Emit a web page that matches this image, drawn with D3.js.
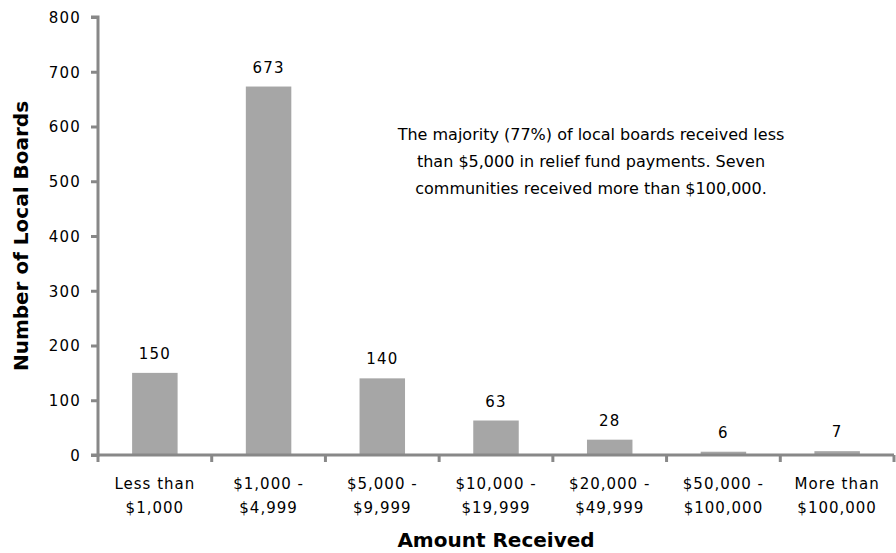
<html>
<head>
    <script src="https://d3js.org/d3.v7.min.js"></script>
    <style>
        body { margin: 0; background: #fff; }
        text { font-family: "DejaVu Sans", sans-serif; fill: #000; }
    </style>
</head>
<body>
    <svg id="chartArea" height="553" width="896"></svg>
    <script>
        // data
        const categories = ["Less than|$1,000", "$1,000 -|$4,999", "$5,000 -|$9,999", "$10,000 -|$19,999",
            "$20,000 -|$49,999", "$50,000 -|$100,000", "More than|$100,000"];
        const boards = [150, 673, 140, 63, 28, 6, 7];
        const yTicks = [0, 100, 200, 300, 400, 500, 600, 700, 800];
        const note = ["The majority (77%) of local boards received less",
            "than $5,000 in relief fund payments. Seven",
            "communities received more than $100,000."];

        const svg = d3.select("#chartArea");
        const margins = { top: 17, right: 2, bottom: 98, left: 98 };
        const chartWidth = 896 - margins.left - margins.right;
        const chartHeight = 553 - margins.top - margins.bottom;
        const axisColor = "#888";

        const chartArea = svg.append("g")
            .attr("transform", `translate(${margins.left},${margins.top})`);

        const xScale = d3.scaleBand()
            .domain(categories)
            .range([0, chartWidth])
            .paddingInner(0.6)
            .paddingOuter(0.3);

        const yScale = d3.scaleLinear()
            .domain([0, 800])
            .range([chartHeight, 0]);

        // bars
        chartArea.selectAll(".bar")
            .data(boards)
            .join("rect")
            .attr("class", "bar")
            .attr("x", (d, i) => xScale(categories[i]))
            .attr("y", d => yScale(d))
            .attr("width", xScale.bandwidth())
            .attr("height", d => chartHeight - yScale(d))
            .attr("fill", "#a6a6a6");

        // value labels
        chartArea.selectAll(".val")
            .data(boards)
            .join("text")
            .attr("class", "val")
            .attr("x", (d, i) => xScale(categories[i]) + xScale.bandwidth() / 2)
            .attr("y", d => yScale(d) - 14)
            .attr("text-anchor", "middle")
            .style("font-size", "15px")
            .style("letter-spacing", "1.2px")
            .text(d => d);

        // y axis
        const leftAxis = d3.axisLeft(yScale).tickValues(yTicks).tickSize(7).tickPadding(10);
        const yAxis = chartArea.append("g").call(leftAxis);
        yAxis.selectAll("text")
            .style("font-size", "15px")
            .style("letter-spacing", "1.2px")
            .style("font-family", "DejaVu Sans")
            .attr("fill", "#000")
            .attr("dy", "0.35em");

        // x axis with boundary ticks
        const bottomAxis = d3.axisBottom(xScale).tickSize(0).tickFormat("");
        const xAxis = chartArea.append("g")
            .attr("transform", `translate(0,${chartHeight})`)
            .call(bottomAxis);
        const step = xScale.step();
        xAxis.selectAll(".bound")
            .data(d3.range(categories.length + 1))
            .join("line")
            .attr("class", "bound")
            .attr("x1", i => i * step)
            .attr("x2", i => i * step)
            .attr("y1", 0)
            .attr("y2", 7);

        svg.selectAll(".domain, .tick line, .bound")
            .attr("stroke", axisColor)
            .attr("stroke-width", 3);
        yAxis.select(".domain").attr("d", `M-7,${chartHeight}H0V0H-7`);
        xAxis.select(".domain").attr("d", `M0,0H${chartWidth}`);

        // category labels (two lines)
        chartArea.selectAll(".cat")
            .data(categories)
            .join("text")
            .attr("class", "cat")
            .attr("text-anchor", "middle")
            .style("font-size", "15px")
            .style("letter-spacing", "1px")
            .selectAll("tspan")
            .data(d => d.split("|").map(s => ({ s, x: xScale(d) + xScale.bandwidth() / 2 })))
            .join("tspan")
            .attr("x", d => d.x)
            .attr("y", (d, i) => chartHeight + 34 + i * 24)
            .text(d => d.s);

        // axis titles
        svg.append("text")
            .attr("transform", `translate(28,${margins.top + chartHeight / 2}) rotate(-90)`)
            .attr("text-anchor", "middle")
            .style("font-size", "20px")
            .style("font-weight", "bold")
            .text("Number of Local Boards");

        svg.append("text")
            .attr("x", 496)
            .attr("y", 547)
            .attr("text-anchor", "middle")
            .style("font-size", "20px")
            .style("font-weight", "bold")
            .text("Amount Received");

        // annotation
        svg.append("text")
            .attr("text-anchor", "middle")
            .style("font-size", "16px")
            .selectAll("tspan")
            .data(note)
            .join("tspan")
            .attr("x", 591)
            .attr("y", (d, i) => 140 + i * 27)
            .text(d => d);
    </script>
</body>
</html>
